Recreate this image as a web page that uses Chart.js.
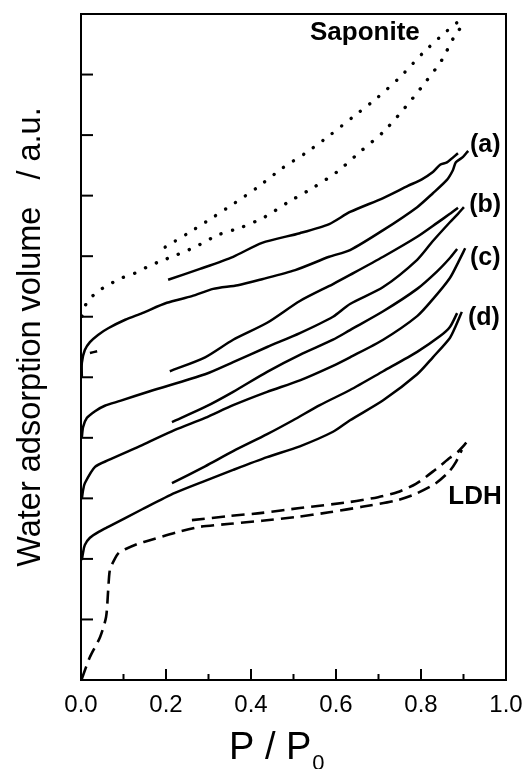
<!DOCTYPE html>
<html>
<head>
<meta charset="utf-8">
<script src="https://cdn.jsdelivr.net/npm/chart.js@4.4.0/dist/chart.umd.min.js"></script>
<style>
  html, body { margin: 0; padding: 0; background: #fff; }
</style>
</head>
<body>
<canvas id="chart" width="524" height="769"></canvas>
<script>
// x = P/P0, y = water adsorption volume (a.u., curves offset by one tick each)
const xTickLabels = ['0.0', '0.2', '0.4', '0.6', '0.8', '1.0'];

const sapAds = [[0.002, 6.01], [0.014, 6.24], [0.04, 6.42], [0.068, 6.54], [0.096, 6.64], [0.127, 6.72],
  [0.155, 6.82], [0.181, 6.90], [0.214, 6.99], [0.268, 7.15], [0.322, 7.35], [0.379, 7.48], [0.433, 7.65],
  [0.487, 7.89], [0.546, 8.13], [0.602, 8.39], [0.656, 8.72], [0.711, 9.05], [0.762, 9.45], [0.809, 9.86],
  [0.849, 10.24], [0.88, 10.65], [0.899, 10.82]];
const sapDes = [[0.198, 7.15], [0.252, 7.38], [0.308, 7.63], [0.362, 7.88], [0.416, 8.14], [0.475, 8.46],
  [0.532, 8.72], [0.586, 9.0], [0.64, 9.3], [0.696, 9.61], [0.751, 9.96], [0.805, 10.36], [0.856, 10.69],
  [0.892, 10.9]];

const aAds = [[0.002, 5.00], [0.002, 5.24], [0.009, 5.45], [0.021, 5.58], [0.04, 5.70], [0.064, 5.81],
  [0.104, 5.95], [0.144, 6.06], [0.202, 6.23], [0.261, 6.34], [0.311, 6.46], [0.369, 6.52], [0.426, 6.62],
  [0.504, 6.77], [0.584, 6.99], [0.633, 7.10], [0.711, 7.43], [0.791, 7.81], [0.828, 8.04], [0.861, 8.26],
  [0.875, 8.42], [0.882, 8.55], [0.899, 8.64], [0.911, 8.74]];
const aDes = [[0.205, 6.61], [0.28, 6.79], [0.358, 6.99], [0.426, 7.22], [0.515, 7.38], [0.584, 7.53],
  [0.633, 7.73], [0.711, 7.96], [0.769, 8.16], [0.802, 8.27], [0.828, 8.39], [0.845, 8.51], [0.861, 8.55],
  [0.887, 8.70]];
const aMark = [[0.021, 5.40], [0.038, 5.43]];

const bAds = [[0.002, 4.01], [0.005, 4.18], [0.014, 4.33], [0.033, 4.44], [0.056, 4.53], [0.092, 4.61],
  [0.162, 4.77], [0.292, 5.05], [0.358, 5.25], [0.438, 5.50], [0.515, 5.73], [0.593, 6.00], [0.633, 6.21],
  [0.711, 6.49], [0.791, 6.94], [0.828, 7.25], [0.868, 7.56], [0.887, 7.70], [0.901, 7.81]];
const bDes = [[0.209, 5.10], [0.292, 5.33], [0.358, 5.62], [0.438, 5.90], [0.515, 6.26], [0.593, 6.54],
  [0.633, 6.69], [0.711, 6.99], [0.791, 7.32], [0.838, 7.55], [0.868, 7.70], [0.887, 7.80]];

const cAds = [[0.002, 2.99], [0.005, 3.14], [0.009, 3.25], [0.033, 3.52], [0.064, 3.63], [0.144, 3.88],
  [0.221, 4.13], [0.292, 4.33], [0.358, 4.54], [0.438, 4.76], [0.515, 4.95], [0.593, 5.19], [0.633, 5.33],
  [0.711, 5.62], [0.791, 6.01], [0.828, 6.29], [0.868, 6.64], [0.887, 6.89], [0.904, 7.13]];
const cDes = [[0.214, 4.26], [0.292, 4.51], [0.358, 4.76], [0.438, 5.09], [0.515, 5.37], [0.593, 5.62],
  [0.633, 5.78], [0.711, 6.09], [0.791, 6.46], [0.838, 6.75], [0.868, 6.97], [0.885, 7.12]];

const dAds = [[0.002, 1.98], [0.005, 2.11], [0.009, 2.23], [0.021, 2.35], [0.045, 2.46], [0.064, 2.53],
  [0.144, 2.82], [0.221, 3.09], [0.292, 3.29], [0.358, 3.47], [0.438, 3.68], [0.515, 3.86], [0.593, 4.10],
  [0.633, 4.29], [0.711, 4.62], [0.791, 5.05], [0.828, 5.33], [0.868, 5.65], [0.882, 5.85], [0.896, 6.08]];
const dDes = [[0.214, 3.25], [0.292, 3.53], [0.358, 3.78], [0.438, 4.06], [0.499, 4.29], [0.562, 4.54],
  [0.633, 4.79], [0.711, 5.10], [0.791, 5.42], [0.845, 5.68], [0.868, 5.83], [0.885, 6.06]];

const ldhAds = [[0.002, 0.02], [0.021, 0.38], [0.045, 0.71], [0.059, 1.04], [0.064, 1.49], [0.068, 1.82],
  [0.078, 1.98], [0.089, 2.10], [0.104, 2.16], [0.134, 2.25], [0.162, 2.31], [0.226, 2.44], [0.28, 2.53],
  [0.351, 2.58], [0.426, 2.63], [0.504, 2.69], [0.584, 2.77], [0.661, 2.86], [0.739, 2.96], [0.786, 3.07],
  [0.833, 3.24], [0.866, 3.44], [0.882, 3.60], [0.896, 3.80]];
const ldhDes = [[0.261, 2.64], [0.351, 2.71], [0.426, 2.76], [0.515, 2.84], [0.633, 2.94], [0.699, 3.02],
  [0.744, 3.10], [0.788, 3.24], [0.833, 3.47], [0.868, 3.67], [0.887, 3.77], [0.908, 3.93]];

// curve labels, placed in data coordinates
const curveLabels = [
  { text: 'Saponite', x: 0.668, y: 10.69, size: 26 },
  { text: '(a)', x: 0.951, y: 8.84, size: 25 },
  { text: '(b)', x: 0.951, y: 7.84, size: 25 },
  { text: '(c)', x: 0.951, y: 6.97, size: 25 },
  { text: '(d)', x: 0.948, y: 5.98, size: 25 },
  { text: 'LDH', x: 0.927, y: 3.02, size: 26 },
];

const FONT = '"Liberation Sans", Arial, Helvetica, sans-serif';
const toXY = (pts) => pts.map(([x, y]) => ({ x, y }));

const solid = (pts) => ({ data: toXY(pts), borderWidth: 2.5 });
const dotted = (pts) => ({ data: toXY(pts), borderWidth: 3.4, borderDash: [0.1, 11.8], borderCapStyle: 'round' });
const dashed = (pts) => ({ data: toXY(pts), borderWidth: 2.6, borderDash: [13, 7] });

// frame, inward ticks, curve labels and axis titles
const decorPlugin = {
  id: 'decor',
  afterDatasetsDraw(chart) {
    const { ctx, chartArea: a, scales: { x, y } } = chart;
    ctx.save();
    ctx.strokeStyle = '#000';
    ctx.lineWidth = 2;
    ctx.strokeRect(a.left, a.top, a.right - a.left, a.bottom - a.top);

    x.ticks.forEach((t) => {
      const px = x.getPixelForValue(t.value);
      const major = Math.round(t.value * 10) % 2 === 0;
      ctx.beginPath();
      ctx.moveTo(px, a.bottom);
      ctx.lineTo(px, a.bottom - (major ? 11 : 6));
      ctx.stroke();
    });
    y.ticks.forEach((t) => {
      const py = y.getPixelForValue(t.value);
      ctx.beginPath();
      ctx.moveTo(a.left, py);
      ctx.lineTo(a.left + 12, py);
      ctx.stroke();
    });

    ctx.fillStyle = '#000';
    ctx.textAlign = 'center';
    ctx.textBaseline = 'middle';
    curveLabels.forEach((l) => {
      ctx.font = 'bold ' + l.size + 'px ' + FONT;
      ctx.fillText(l.text, x.getPixelForValue(l.x), y.getPixelForValue(l.y));
    });

    // x title: P / P0 with subscript
    ctx.textBaseline = 'alphabetic';
    ctx.textAlign = 'left';
    ctx.font = '38px ' + FONT;
    const main = 'P / P';
    const w = ctx.measureText(main).width;
    const x0 = 229;
    ctx.fillText(main, x0, 759);
    ctx.font = '22px ' + FONT;
    ctx.fillText('0', x0 + w + 1, 770);

    // y title
    ctx.translate(31, 337);
    ctx.rotate(-Math.PI / 2);
    ctx.textAlign = 'center';
    ctx.textBaseline = 'middle';
    ctx.font = '32.5px ' + FONT;
    ctx.fillText('Water adsorption volume   / a.u.', 0, 0);
    ctx.restore();
  },
};

new Chart(document.getElementById('chart'), {
  type: 'scatter',
  data: {
    datasets: [
      dotted(sapAds), dotted(sapDes),
      solid(aAds), solid(aDes), solid(aMark),
      solid(bAds), solid(bDes),
      solid(cAds), solid(cDes),
      solid(dAds), solid(dDes),
      dashed(ldhAds), dashed(ldhDes),
    ].map((d) => ({ ...d, showLine: true, pointRadius: 0, borderColor: '#000', tension: 0.25, fill: false })),
  },
  options: {
    responsive: false,
    animation: false,
    layout: { padding: { top: 14, right: 18, left: 0, bottom: 0 } },
    plugins: { legend: { display: false }, tooltip: { enabled: false } },
    scales: {
      x: {
        type: 'linear', min: 0, max: 1,
        grid: { display: false, drawTicks: false },
        border: { display: false },
        ticks: {
          stepSize: 0.1, autoSkip: false, maxRotation: 0, padding: 11, color: '#000',
          font: { family: FONT, size: 24 },
          callback: (v) => {
            const i = Math.round(v * 10);
            return i % 2 === 0 ? xTickLabels[i / 2] : '';
          },
        },
        afterFit: (s) => { s.height = 89; s.paddingLeft = 0; s.paddingRight = 0; },
      },
      y: {
        type: 'linear', min: 0, max: 11,
        grid: { display: false, drawTicks: false },
        border: { display: false },
        ticks: { display: false, stepSize: 1 },
        afterFit: (s) => { s.width = 81; },
      },
    },
  },
  plugins: [decorPlugin],
});
</script>
</body>
</html>
